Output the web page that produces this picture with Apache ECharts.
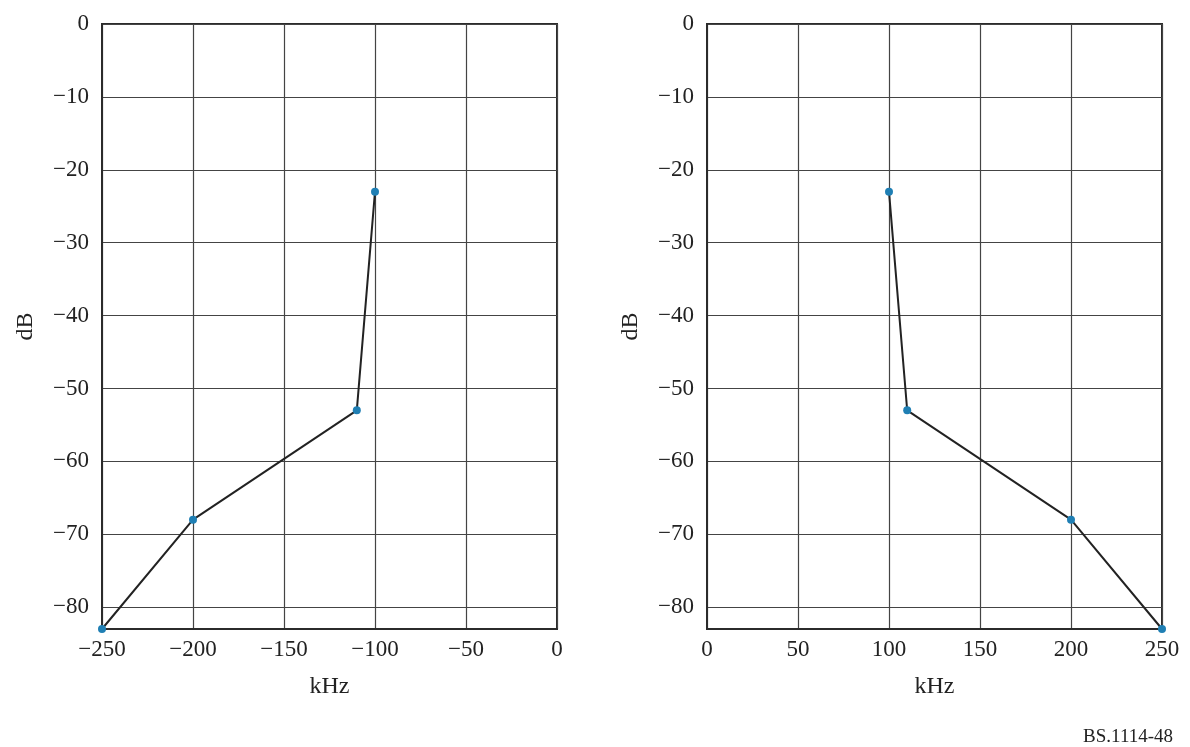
<!DOCTYPE html>
<html>
<head>
<meta charset="utf-8">
<script src="https://cdn.jsdelivr.net/npm/echarts@6/dist/echarts.min.js"></script>
<style>
html,body{margin:0;padding:0;background:#fff;}
#c{width:1190px;height:747px;}
</style>
</head>
<body>
<div id="c"></div>
<script>
// Data
var leftFreq = [-250, -200, -110, -100];
var leftLevel = [-83, -68, -53, -23];
var rightFreq = [100, 110, 200, 250];
var rightLevel = [-23, -53, -68, -83];
var yTicks = [0, -10, -20, -30, -40, -50, -60, -70, -80];
var xAxisName = 'kHz';
var yAxisName = 'dB';
var footnote = 'BS.1114-48';

function pairs(xs, ys) { return xs.map(function (x, i) { return [x, ys[i]]; }); }
function fmt(v) { return String(v).replace('-', '\u2212'); }
var font = 'Liberation Serif';
var lineC = '#2b2b2b';

function xAx(idx, min, max) {
  return {
    type: 'value', gridIndex: idx, min: min, max: max, interval: 50,
    name: xAxisName, nameLocation: 'middle', nameGap: 46,
    nameTextStyle: { fontFamily: font, fontSize: 24, color: '#222' },
    axisLine: { show: true, onZero: false, lineStyle: { color: lineC, width: 2 } },
    axisTick: { show: false },
    axisLabel: { fontFamily: font, fontSize: 23, color: '#222', margin: 9, formatter: fmt },
    splitLine: { show: true, lineStyle: { color: '#444', width: 1.2 } }
  };
}
function yAx(idx) {
  return {
    type: 'value', gridIndex: idx, min: -83, max: 0,
    name: yAxisName, nameLocation: 'middle', nameGap: 64,
    nameTextStyle: { fontFamily: font, fontSize: 24, color: '#222' },
    axisLine: { show: true, onZero: false, lineStyle: { color: lineC, width: 2 } },
    axisTick: { show: false, customValues: yTicks },
    axisLabel: { fontFamily: font, fontSize: 23, color: '#222', margin: 13, formatter: fmt, customValues: yTicks },
    splitLine: { show: true, lineStyle: { color: '#444', width: 1.2 } }
  };
}
function ser(idx, data) {
  return {
    type: 'line', xAxisIndex: idx, yAxisIndex: idx, data: data,
    symbol: 'circle', symbolSize: 8,
    itemStyle: { color: '#1f7fb4' },
    lineStyle: { color: '#222', width: 2 },
    z: 5
  };
}
var chart = echarts.init(document.getElementById('c'), null, { renderer: 'canvas' });
chart.setOption({
  backgroundColor: '#fff',
  animation: false,
  grid: [
    { left: 102, right: 633, top: 24, bottom: 118, show: true, borderColor: lineC, borderWidth: 2 },
    { left: 707, right: 28, top: 24, bottom: 118, show: true, borderColor: lineC, borderWidth: 2 }
  ],
  xAxis: [xAx(0, -250, 0), xAx(1, 0, 250)],
  yAxis: [yAx(0), yAx(1)],
  series: [ser(0, pairs(leftFreq, leftLevel)), ser(1, pairs(rightFreq, rightLevel))],
  graphic: [{
    type: 'text', right: 17, bottom: 0,
    style: { text: footnote, font: '19px "Liberation Serif"', fill: '#222' }
  }]
});
</script>
</body>
</html>
